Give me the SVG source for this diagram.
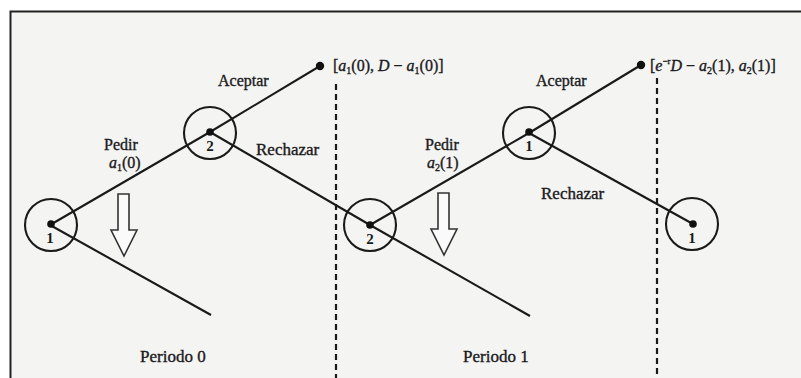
<svg xmlns="http://www.w3.org/2000/svg" width="801" height="378" viewBox="0 0 801 378">
<defs>
<style>
.t{font-family:"Liberation Serif","DejaVu Serif",serif;font-size:16px;fill:#1a1a1a;stroke:#1a1a1a;stroke-width:0.35}
.w{font-size:17px}
.v{font-style:italic}
.n{font-family:"Liberation Serif","DejaVu Serif",serif;font-size:15px;font-weight:bold;fill:#1a1a1a;text-anchor:middle}
.e{stroke:#1a1a1a;stroke-width:2.1;fill:none}
.c{stroke:#1a1a1a;stroke-width:2.1;fill:none}
.d{fill:#111}
.dash{stroke:#1a1a1a;stroke-width:2.2;stroke-dasharray:6 4;fill:none}
.arr{stroke:#333;stroke-width:1.6;fill:#fafafa}
</style>
</defs>
<rect x="0" y="0" width="801" height="378" fill="#ffffff"/>
<rect x="11" y="12" width="790" height="366" fill="#f4f4f3"/>
<path d="M10.5 378 V11.5 H801" stroke="#222" stroke-width="2" fill="none"/>

<g id="connectors">
<line class="e" x1="50" y1="225" x2="210" y2="132"/>
<line class="e" x1="50" y1="225" x2="211" y2="315"/>
<line class="e" x1="210" y1="132" x2="320" y2="66"/>
<line class="e" x1="210" y1="132" x2="370" y2="225"/>
<line class="e" x1="370" y1="225" x2="529" y2="133"/>
<line class="e" x1="370" y1="225" x2="530" y2="316"/>
<line class="e" x1="529" y1="133" x2="641" y2="65"/>
<line class="e" x1="529" y1="133" x2="693" y2="224"/>
<circle class="d" cx="320" cy="66" r="4.2"/>
<circle class="d" cx="641" cy="65" r="4.2"/>
</g>

<g id="dividers">
<line class="dash" x1="336" y1="84" x2="336" y2="378"/>
<line class="dash" x1="657" y1="78" x2="657" y2="378"/>
</g>

<g id="arrows">
<path class="arr" d="M118 194 H129 V230 H137 L124 256 L111 230 H118 Z"/>
<path class="arr" d="M438 193 H449 V229 H457 L444 255 L431 229 H438 Z"/>
</g>

<g id="n1a">
<circle class="c" cx="51" cy="225" r="26"/>
<circle class="d" cx="51" cy="224" r="3.8"/>
<text class="n" x="50" y="243">1</text>
</g>
<g id="n2a">
<circle class="c" cx="210" cy="133" r="26"/>
<circle class="d" cx="210" cy="132" r="3.8"/>
<text class="n" x="210" y="151">2</text>
</g>
<g id="n2b">
<circle class="c" cx="370" cy="225" r="26"/>
<circle class="d" cx="370" cy="225" r="3.8"/>
<text class="n" x="370" y="244">2</text>
</g>
<g id="n1b">
<circle class="c" cx="529" cy="133" r="26"/>
<circle class="d" cx="529" cy="132" r="3.8"/>
<text class="n" x="529" y="151">1</text>
</g>
<g id="n1c">
<circle class="c" cx="692" cy="224" r="26"/>
<circle class="d" cx="693" cy="224" r="3.8"/>
<text class="n" x="692" y="243">1</text>
</g>

<g id="labels">
<text class="t" x="218" y="86">Aceptar</text>
<text class="t" x="104" y="150">Pedir</text>
<text class="t" x="109" y="168"><tspan class="v">a</tspan><tspan font-size="10" dy="3">1</tspan><tspan dy="-3">(0)</tspan></text>
<text class="t w" x="256" y="155">Rechazar</text>
<text class="t" x="333" y="71">[<tspan class="v">a</tspan><tspan font-size="10" dy="3">1</tspan><tspan dy="-3">(0), </tspan><tspan class="v">D</tspan> − <tspan class="v">a</tspan><tspan font-size="10" dy="3">1</tspan><tspan dy="-3">(0)]</tspan></text>
<text class="t" x="536" y="86">Aceptar</text>
<text class="t" x="425" y="150">Pedir</text>
<text class="t" x="427" y="168"><tspan class="v">a</tspan><tspan font-size="10" dy="3">2</tspan><tspan dy="-3">(1)</tspan></text>
<text class="t w" x="541" y="199">Rechazar</text>
<text class="t" x="650" y="71">[<tspan class="v">e</tspan><tspan font-size="9" dy="-7">−r</tspan><tspan class="v" dy="7">D</tspan> − <tspan class="v">a</tspan><tspan font-size="10" dy="3">2</tspan><tspan dy="-3">(1), </tspan><tspan class="v">a</tspan><tspan font-size="10" dy="3">2</tspan><tspan dy="-3">(1)]</tspan></text>
<text class="t w" x="140" y="362">Periodo 0</text>
<text class="t w" x="463" y="362">Periodo 1</text>
</g>
</svg>
